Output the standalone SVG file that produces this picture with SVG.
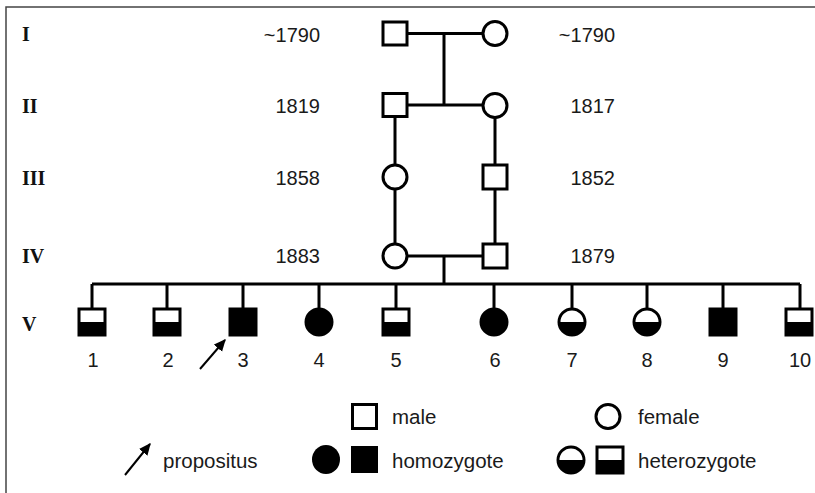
<svg xmlns="http://www.w3.org/2000/svg" width="815" height="493" viewBox="0 0 815 493">
<style>
.sym{fill:#fff;stroke:#000;stroke-width:3}
.fill{fill:#000;stroke:#000;stroke-width:3}
.ln{fill:none;stroke:#000;stroke-width:3}
.rom{font-family:"Liberation Serif","Times New Roman",serif;font-weight:bold;font-size:20px;fill:#111}
.yr{font-family:"Liberation Sans",Arial,sans-serif;font-size:20px;fill:#1a1a1a}
.num{font-family:"Liberation Sans",Arial,sans-serif;font-size:20px;fill:#1a1a1a;text-anchor:middle}
.lg{font-family:"Liberation Sans",Arial,sans-serif;font-size:20.5px;fill:#1a1a1a}
</style>
<defs>
<marker id="ah" viewBox="0 0 10 10" refX="9" refY="5" markerWidth="6" markerHeight="6" orient="auto" markerUnits="strokeWidth">
<path d="M0,0.5 L10,5 L0,9.5 z" fill="#000"/>
</marker>
<g id="hetsq">
<rect x="-13" y="-13" width="26" height="26" fill="#000"/>
<rect x="-13" y="-13" width="26" height="13" fill="#fff"/>
<rect x="-13" y="-13" width="26" height="26" fill="none" stroke="#000" stroke-width="3"/>
</g>
<g id="hetci">
<circle r="13" fill="#fff"/>
<path d="M-13,0 A13,13 0 0 0 13,0 z" fill="#000"/>
<circle r="13" fill="none" stroke="#000" stroke-width="3"/>
</g>
</defs>
<rect width="815" height="493" fill="#fff"/>
<path d="M6,493 V7 H815" fill="none" stroke="#444" stroke-width="1.5"/>

<g id="gen-labels">
<text class="rom" x="22" y="41">I</text>
<text class="rom" x="22" y="113">II</text>
<text class="rom" x="22" y="185">III</text>
<text class="rom" x="22" y="263">IV</text>
<text class="rom" x="22" y="331">V</text>
</g>
<g id="years">
<text class="yr" x="320" y="42" text-anchor="end">~1790</text>
<text class="yr" x="615" y="42" text-anchor="end">~1790</text>
<text class="yr" x="320" y="113" text-anchor="end">1819</text>
<text class="yr" x="615" y="113" text-anchor="end">1817</text>
<text class="yr" x="320" y="185" text-anchor="end">1858</text>
<text class="yr" x="615" y="185" text-anchor="end">1852</text>
<text class="yr" x="320" y="263" text-anchor="end">1883</text>
<text class="yr" x="615" y="263" text-anchor="end">1879</text>
</g>

<g id="connectors">
<path class="ln" d="M407,33.5 H482 M444,33.5 V105 M407,105 H482"/>
<path class="ln" d="M395,117 V164 M395,190 V243"/>
<path class="ln" d="M495,118 V165 M495,189 V244"/>
<path class="ln" d="M408,256 H483 M444,256 V284"/>
<path class="ln" d="M92,284 H800"/>
<path class="ln" d="M92,284 V308 M167,284 V308 M243,284 V308 M319,284 V308 M396,284 V308 M494,284 V308 M572,284 V308 M647,284 V308 M723,284 V308 M800,284 V308"/>
</g>

<g id="I-1"><rect class="sym" x="383" y="22" width="24" height="23"/></g>
<g id="I-2"><circle class="sym" cx="495" cy="33.5" r="12"/></g>
<g id="II-1"><rect class="sym" x="383" y="93.5" width="24" height="23"/></g>
<g id="II-2"><circle class="sym" cx="495" cy="105.5" r="12"/></g>
<g id="III-1"><circle class="sym" cx="395" cy="177" r="12"/></g>
<g id="III-2"><rect class="sym" x="483" y="165" width="24" height="24"/></g>
<g id="IV-1"><circle class="sym" cx="395" cy="256" r="12"/></g>
<g id="IV-2"><rect class="sym" x="483" y="244" width="24" height="24"/></g>

<g id="V-1"><use href="#hetsq" x="92" y="322"/><text class="num" x="93" y="367">1</text></g>
<g id="V-2"><use href="#hetsq" x="167" y="322"/><text class="num" x="168" y="367">2</text></g>
<g id="V-3"><rect class="fill" x="230" y="309" width="26" height="26"/><text class="num" x="243" y="367">3</text></g>
<g id="V-4"><circle class="fill" cx="319" cy="322" r="13"/><text class="num" x="319" y="367">4</text></g>
<g id="V-5"><use href="#hetsq" x="396" y="322"/><text class="num" x="396" y="367">5</text></g>
<g id="V-6"><circle class="fill" cx="494" cy="322" r="13"/><text class="num" x="495" y="367">6</text></g>
<g id="V-7"><use href="#hetci" x="572" y="322"/><text class="num" x="572" y="367">7</text></g>
<g id="V-8"><use href="#hetci" x="647" y="322"/><text class="num" x="647" y="367">8</text></g>
<g id="V-9"><rect class="fill" x="710" y="309" width="26" height="26"/><text class="num" x="723" y="367">9</text></g>
<g id="V-10"><use href="#hetsq" x="799" y="322"/><text class="num" x="800" y="367">10</text></g>

<g id="propositus-arrow"><line x1="200" y1="369" x2="225" y2="340" stroke="#000" stroke-width="2" marker-end="url(#ah)"/></g>

<g id="legend">
<rect class="sym" x="352.5" y="404.5" width="24" height="24"/>
<text class="lg" x="392" y="424">male</text>
<circle class="sym" cx="608" cy="416.5" r="12"/>
<text class="lg" x="638" y="424">female</text>
<line x1="125" y1="475" x2="150" y2="444" stroke="#000" stroke-width="2" marker-end="url(#ah)"/>
<text class="lg" x="163" y="468">propositus</text>
<ellipse cx="326" cy="459.5" rx="14" ry="14.5" fill="#000"/>
<rect x="351" y="446" width="27" height="27" fill="#000"/>
<text class="lg" x="392" y="468">homozygote</text>
<use href="#hetci" x="571" y="460"/>
<use href="#hetsq" x="610" y="460"/>
<text class="lg" x="638" y="468">heterozygote</text>
</g>
</svg>
